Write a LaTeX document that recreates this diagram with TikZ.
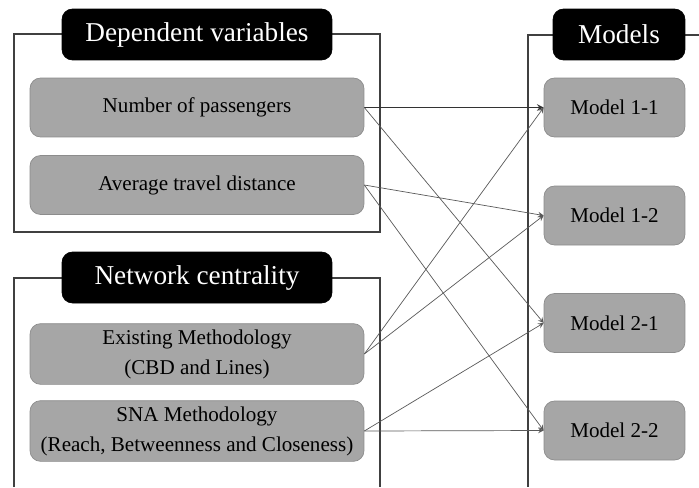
\documentclass[tikz,border=0pt]{standalone}
\usepackage{fontspec}
\setmainfont{Liberation Serif}
\usetikzlibrary{arrows,shapes,positioning,calc}

\begin{document}
\begin{tikzpicture}[x=0.02cm,y=-0.02cm,
  frame/.style={draw=black!75,line width=0.8pt},
  title/.style={fill=black,draw=black,rounded corners=6pt,text=white,
    minimum width=5.4cm,minimum height=1.02cm,font=\fontsize{15.5}{18}\selectfont},
  item/.style={fill=black!35,draw=black!45,rounded corners=6pt,align=center,
    minimum width=6.68cm,minimum height=1.18cm,font=\fontsize{12}{17}\selectfont},
  model/.style={item,minimum width=2.82cm},
  link/.style={->,>=stealth,draw=black!65,line width=0.4pt}]
  \useasboundingbox (0,0) rectangle (699,487);

  % frames
  \draw[frame] (14,34) rectangle (380,232);
  \draw[frame] (14,487) -- (14,278) -- (380,278) -- (380,487);
  \draw[frame] (699,35) -- (528,35) -- (528,487);

  % titles
  \node[title] (dep) at (197,34.5) {Dependent variables};
  \node[title] (net) at (197,277.5) {Network centrality};
  \node[title,minimum width=2.64cm] (mod) at (619,34.5) {Models};

  % left items
  \node[item] (pass) at (197,107.5) {Number of passengers};
  \node[item] (dist) at (197,185) {Average travel distance};
  \node[item] (exist) at (197,354) {Existing Methodology\\(CBD and Lines)};
  \node[item] (sna) at (197,431) {SNA Methodology\\(Reach, Betweenness and Closeness)};

  % models
  \node[model] (m11) at (614.5,107.5) {Model 1-1};
  \node[model] (m12) at (614.5,215.5) {Model 1-2};
  \node[model] (m21) at (614.5,323) {Model 2-1};
  \node[model] (m22) at (614.5,430.5) {Model 2-2};

  % links
  \draw[link,line width=0.7pt,draw=black!80] (pass.east) -- (m11.west);
  \draw[link] (pass.east) -- (m21.west);
  \draw[link] (dist.east) -- (m12.west);
  \draw[link] (dist.east) -- (m22.west);
  \draw[link] (exist.east) -- (m11.west);
  \draw[link] (exist.east) -- (m12.west);
  \draw[link] (sna.east) -- (m21.west);
  \draw[link] (sna.east) -- (m22.west);
\end{tikzpicture}
\end{document}
